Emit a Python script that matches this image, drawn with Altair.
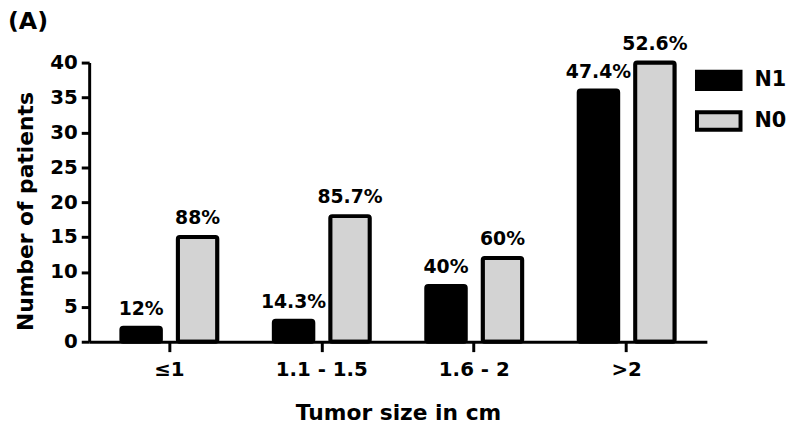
import altair as alt
import pandas as pd

sizes = ["≤1", "1.1 - 1.5", "1.6 - 2", ">2"]
n1_counts = [2, 3, 8, 36]
n0_counts = [15, 18, 12, 40]
n1_pct = ["12%", "14.3%", "40%", "47.4%"]
n0_pct = ["88%", "85.7%", "60%", "52.6%"]
groups = ["N1", "N0"]
y_ticks = [0, 5, 10, 15, 20, 25, 30, 35, 40]

rows = []
for i, s in enumerate(sizes):
    rows.append({"size": s, "group": "N1", "count": n1_counts[i], "pct": n1_pct[i]})
    rows.append({"size": s, "group": "N0", "count": n0_counts[i], "pct": n0_pct[i]})
df = pd.DataFrame(rows)

FONT = "DejaVu Sans"

x = alt.X("size:N", sort=sizes,
          scale=alt.Scale(paddingInner=0, paddingOuter=0.026),
          axis=alt.Axis(title="Tumor size in cm", labelAngle=0, labelFontSize=20,
                        labelFont=FONT, labelFontWeight="bold", labelColor="black",
                        titleFont=FONT, titleFontSize=22, titleFontWeight="bold",
                        titleColor="black", titlePadding=24,
                        domainColor="black", domainWidth=3, tickColor="black",
                        tickWidth=3, tickSize=10, labelPadding=8))
xo = alt.XOffset("group:N", sort=groups,
                 scale=alt.Scale(paddingInner=0.3, paddingOuter=0.5))
y = alt.Y("count:Q", scale=alt.Scale(domain=[0, 40], nice=False),
          axis=alt.Axis(title="Number of patients", values=y_ticks, tickCount=9,
                        labelOverlap=False, titleY=150,
                        grid=False, labelFontSize=20, labelFont=FONT,
                        labelFontWeight="bold", labelColor="black",
                        titleFont=FONT, titleFontSize=22, titleFontWeight="bold",
                        titleColor="black", titlePadding=12,
                        domainColor="black", domainWidth=3, tickColor="black",
                        tickWidth=3, tickSize=8, labelPadding=4))

bars = alt.Chart(df).mark_bar(stroke="black", strokeWidth=4, cornerRadius=2).encode(
    x=x, xOffset=xo, y=y,
    color=alt.Color("group:N", sort=groups,
                    scale=alt.Scale(domain=groups, range=["#000000", "#d3d3d3"]),
                    legend=alt.Legend(title=None, orient="none", legendX=612, legendY=-6,
                                      symbolType="M-1,-0.4H1V0.4H-1Z", symbolSize=1936,
                                      symbolStrokeColor="black", symbolStrokeWidth=4,
                                      labelFontSize=21, labelFont=FONT,
                                      labelFontWeight="bold", labelColor="black",
                                      labelOffset=12, rowPadding=0, padding=0)),
)

labels = alt.Chart(df).mark_text(font=FONT, fontSize=19, fontWeight="bold",
                                 baseline="bottom", dy=-9, color="black").encode(
    x=alt.X("size:N", sort=sizes), xOffset=xo, y=alt.Y("count:Q"), text="pct:N"
)

chart = alt.layer(bars, labels).properties(
    width=624, height=282,
    title=alt.TitleParams("(A)", anchor="start", frame="group", dx=-82, offset=1,
                          fontSize=24, font=FONT, fontWeight="bold", color="black"),
    autosize=alt.AutoSizeParams(type="none"),
    padding={"left": 82, "top": 53, "right": 86, "bottom": 83},
).configure_view(stroke=None)

chart.save("out.html", embed_options={"renderer": "svg", "actions": False})
